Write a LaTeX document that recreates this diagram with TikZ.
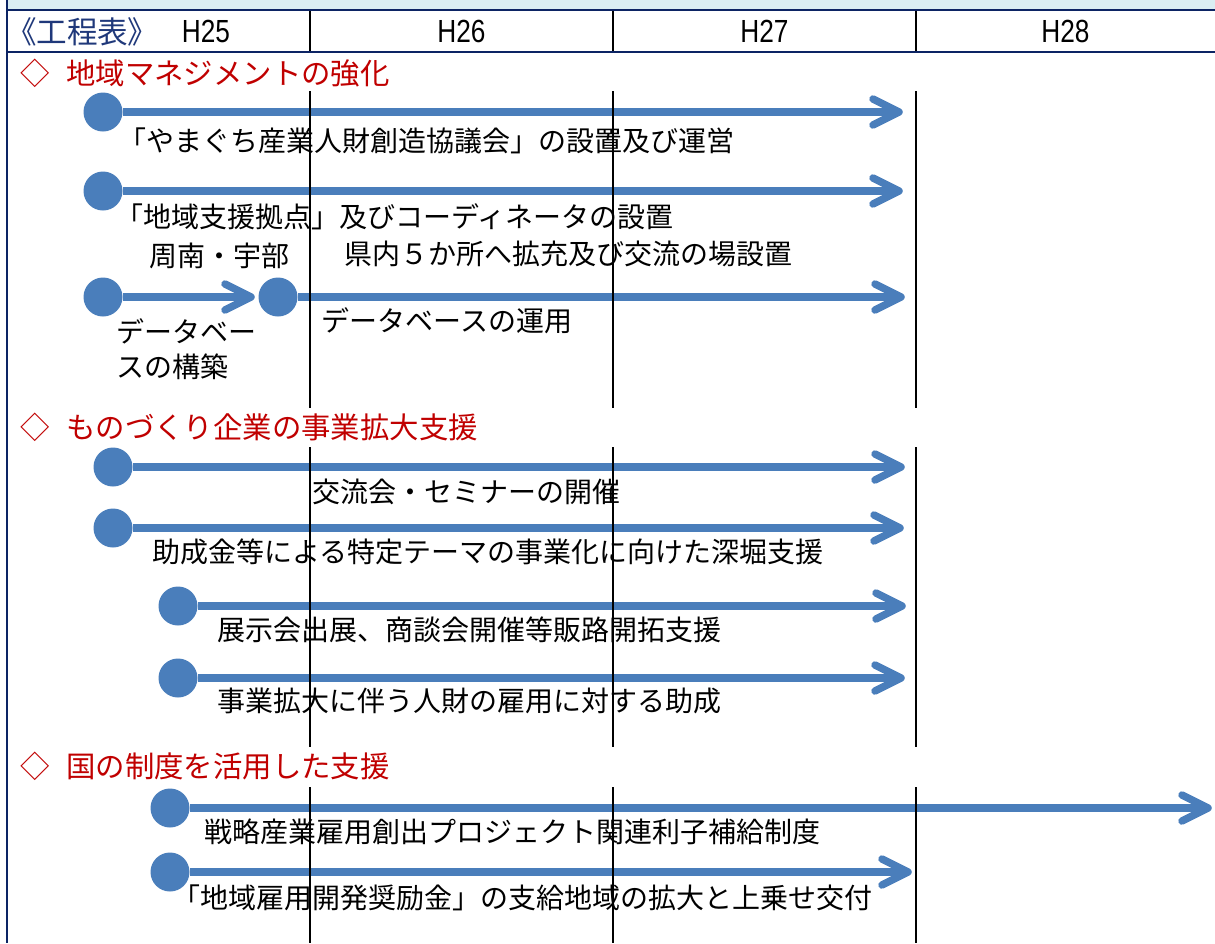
\documentclass[tikz,border=0pt]{standalone}
\usepackage{fontspec}
\newfontfamily\jp{Noto Sans CJK JP}
\newfontfamily\jpp[RawFeature=+palt]{Noto Sans CJK JP}
\newfontfamily\narrowsans[FakeStretch=0.82]{Liberation Sans}
\usetikzlibrary{calc}
\definecolor{arrowblue}{RGB}{74,126,187}
\definecolor{navy}{RGB}{12,36,100}
\definecolor{bandblue}{RGB}{218,238,243}
\definecolor{titlered}{RGB}{192,0,0}
\definecolor{hdrnavy}{RGB}{31,56,122}
\newcommand\tlarrow[2]{%
  \draw[shaft] (#1) -- (#2);
  \draw[chev] ($(#2)+(-26,-13)$) -- (#2) -- ($(#2)+(-26,13)$);}
\begin{document}
\begin{tikzpicture}[x=0.5pt,y=-0.5pt,
  dot/.style={circle,fill=arrowblue,inner sep=0pt,minimum size=19.5pt},
  shaft/.style={draw=arrowblue,line width=3.75pt},
  chev/.style={draw=arrowblue,line width=3.75pt,line cap=round,line join=round},
  lbl/.style={anchor=west,inner sep=0pt,font=\jp\fontsize{14pt}{14pt}\selectfont,text height=12.3pt,text depth=1.7pt},
  lbltwo/.style={anchor=west,inner sep=0pt,align=left,font=\jp\fontsize{14pt}{17.5pt}\selectfont},
  sect/.style={anchor=west,inner sep=0pt,text=titlered,font=\jp\fontsize{14.7pt}{14.7pt}\selectfont,text height=12.9pt,text depth=1.8pt},
  yr/.style={inner sep=0pt,font=\narrowsans\fontsize{16pt}{16pt}\selectfont},
  vline/.style={draw=black,line width=1pt},
  navyline/.style={draw=navy,line width=1.25pt}
]
\useasboundingbox (0,0) rectangle (1215,943);
\fill[bandblue] (7,0) rectangle (1215,10);

% header
\node[anchor=west,inner sep=0pt,text=hdrnavy,font=\jpp\fontsize{15.3pt}{15.3pt}\selectfont,text height=13.4pt,text depth=1.9pt] (hdr) at (21,32) {《工程表》};
\node[yr] (h25) at (206,31) {H25};
\node[yr] (h26) at (461.5,31) {H26};
\node[yr] (h27) at (764.5,31) {H27};
\node[yr] (h28) at (1065.5,31) {H28};

% section titles
\node[sect] (s1) at (20,73) {◇\hspace{8.25pt}地域マネジメントの強化};
\node[sect] (s2) at (20,427) {◇\hspace{8.25pt}ものづくり企業の事業拡大支援};
\node[sect] (s3) at (20,766) {◇\hspace{8.25pt}国の制度を活用した支援};

% labels
\node[lbl] (t1) at (118,141) {「やまぐち産業人財創造協議会」の設置及び運営};
\node[lbl] (t2) at (115,217) {「地域支援拠点」及びコーディネータの設置};
\node[lbl] (t2a) at (149,256) {周南・宇部};
\node[lbl] (t2b) at (344,254) {県内５か所へ拡充及び交流の場設置};
\node[lbltwo] (t3a) at (116,349.5) {データベー\\スの構築};
\node[lbl] (t3b) at (321,321) {データベースの運用};
\node[lbl] (t4) at (312,492) {交流会・セミナーの開催};
\node[lbl] (t5) at (152,552) {助成金等による特定テーマの事業化に向けた深堀支援};
\node[lbl] (t6) at (217,630) {展示会出展、商談会開催等販路開拓支援};
\node[lbl] (t7) at (217,701) {事業拡大に伴う人財の雇用に対する助成};
\node[lbl] (t8) at (204,832) {戦略産業雇用創出プロジェクト関連利子補給制度};
\node[lbl] (t9) at (172,898) {「地域雇用開発奨励金」の支給地域の拡大と上乗せ交付};

% arrow ends
\coordinate (e1) at (899,112);
\coordinate (e2) at (899,191);
\coordinate (e3) at (251,297);
\coordinate (e4) at (901,297);
\coordinate (e5) at (901,467);
\coordinate (e6) at (900,528);
\coordinate (e7) at (902,606);
\coordinate (e8) at (901,678);
\coordinate (e9) at (1208,808);
\coordinate (e10) at (908,872);

% circles
\node[dot] (c1) at (103,112) {};
\node[dot] (c2) at (103,191) {};
\node[dot] (c3) at (103,297) {};
\node[dot] (c4) at (278,297) {};
\node[dot] (c5) at (113,467) {};
\node[dot] (c6) at (113,528) {};
\node[dot] (c7) at (178,606) {};
\node[dot] (c8) at (178,678) {};
\node[dot] (c9) at (170,808) {};
\node[dot] (c10) at (170,872) {};

\tlarrow{c1}{e1}
\tlarrow{c2}{e2}
\tlarrow{c3}{e3}
\tlarrow{c4}{e4}
\tlarrow{c5}{e5}
\tlarrow{c6}{e6}
\tlarrow{c7}{e7}
\tlarrow{c8}{e8}
\tlarrow{c9}{e9}
\tlarrow{c10}{e10}

% vertical year lines
\foreach \xx in {310,613,916}{
  \draw[vline] (\xx,10) -- (\xx,52);
  \draw[vline] (\xx,91) -- (\xx,408);
  \draw[vline] (\xx,447) -- (\xx,747);
  \draw[vline] (\xx,787) -- (\xx,943);
}

% frame lines
\draw[navyline] (7,10) -- (1215,10);
\draw[navyline] (7,52) -- (1215,52);
\draw[navyline] (7,0) -- (7,943);
\end{tikzpicture}
\end{document}
